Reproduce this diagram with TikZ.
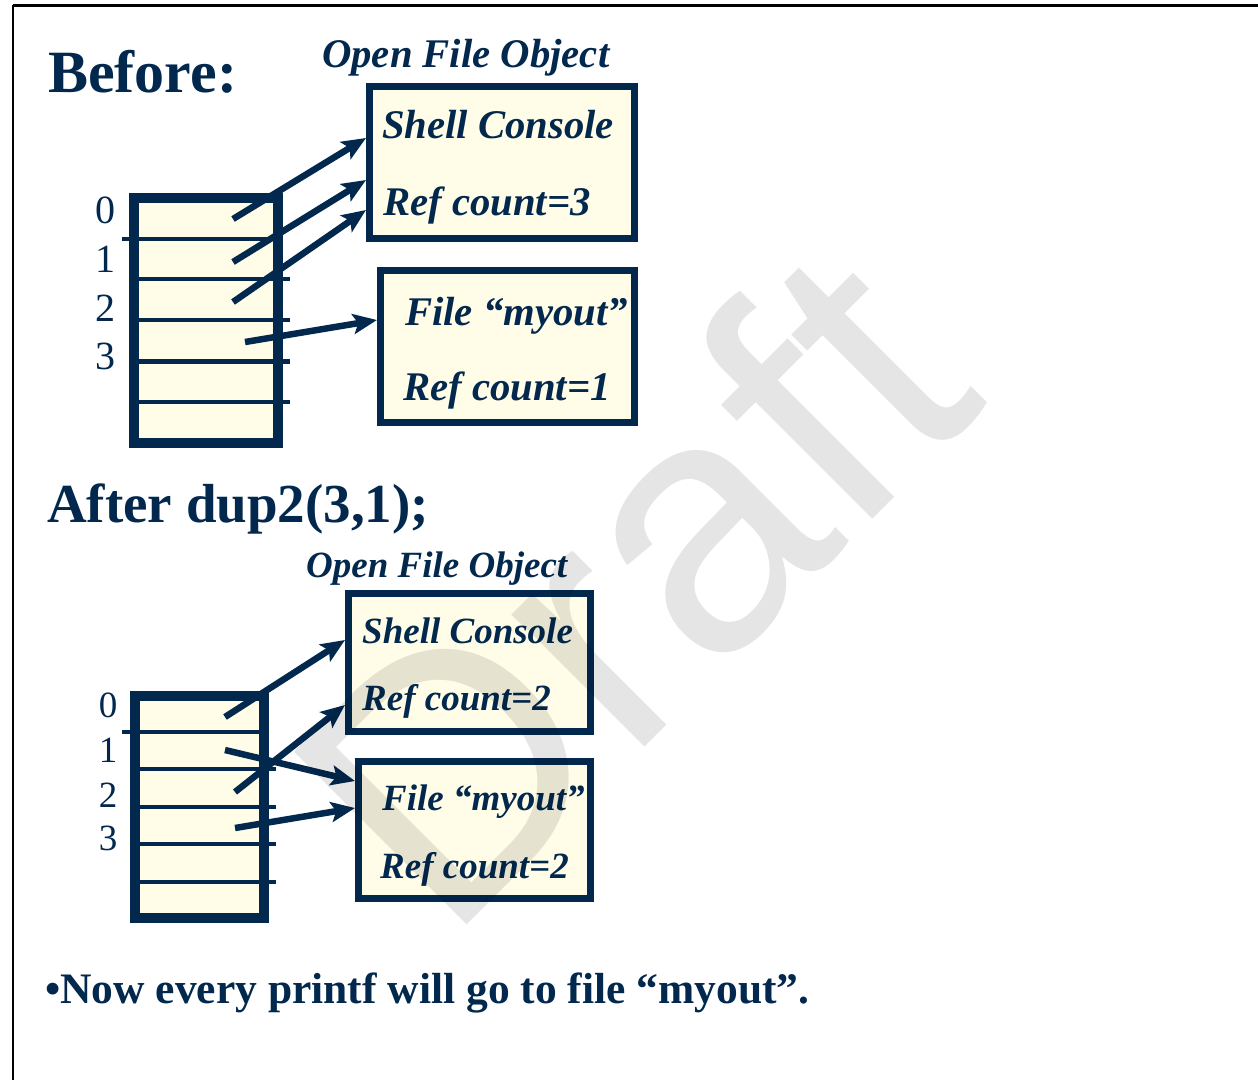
\documentclass[tikz,border=0pt]{standalone}
\usepackage{fontspec}
\setmainfont{Liberation Serif}
\setsansfont{Liberation Sans}
\usetikzlibrary{arrows.meta,calc}
\definecolor{navy}{RGB}{2,40,78}
\definecolor{cream}{RGB}{255,253,232}

\begin{document}
\begin{tikzpicture}[x=1pt,y=-1pt,
  objbox/.style={rectangle, draw=navy, fill=cream, line width=7pt, inner sep=0pt},
  fdtable/.style={rectangle, draw=navy, fill=cream, line width=10pt, inner sep=0pt},
  rowline/.style={draw=navy, line width=4.5pt},
  ptr/.style={draw=navy, line width=6.5pt, -{Stealth[length=24pt,width=20pt,inset=5pt]}},
  lbl/.style={text=navy, inner sep=0pt, anchor=base west},
  heading/.style={lbl, font=\fontsize{#1}{#1}\selectfont\bfseries},
  boxtext/.style={lbl, font=\fontsize{#1}{#1}\selectfont\bfseries\itshape},
  fdnum/.style={text=navy, inner sep=0pt, font=\fontsize{#1}{#1}\selectfont},
]
\useasboundingbox (0,0) rectangle (1258,1080);
\fill[white] (0,0) rectangle (1258,1080);

% slide frame (top and left edges)
\draw[line width=3pt] (13,5) -- (1258,5);
\draw[line width=2pt] (13,5) -- (13,1080);

% ---------------- before ----------------
\node[heading=60] (hBefore) at (48,92) {Before:};
\node[boxtext=40.7] (ofoA) at (322,67) {Open File Object};

\node[objbox, minimum width=265pt, minimum height=152pt] (shellA) at (502,162.5) {};
\node[boxtext=40.7] (shellAt1) at (382,138) {Shell Console};
\node[boxtext=40.7] (shellAt2) at (383,215) {Ref count=3};

\node[objbox, minimum width=254pt, minimum height=152pt] (fileA) at (507.5,346.5) {};
\node[boxtext=40.7] (fileAt1) at (405,325) {File “myout”};
\node[boxtext=40.7] (fileAt2) at (403,400) {Ref count=1};

\node[fdtable, minimum width=144pt, minimum height=245pt] (tabA) at (206,320.5) {};
\draw[rowline] (122,239) -- (tabA.east |- 0,239);
\foreach \y in {279,320,361.5,402}
  \draw[rowline] (tabA.west |- 0,\y) -- (290,\y);

\node[fdnum=40] (nA0) at (105,210) {0};
\node[fdnum=40] (nA1) at (105,259) {1};
\node[fdnum=40] (nA2) at (105,308) {2};
\node[fdnum=40] (nA3) at (105,356) {3};

\coordinate (fdA0) at (233,219);
\coordinate (fdA1) at (233,262);
\coordinate (fdA2) at (233,302);
\coordinate (fdA3) at (245,342);
\draw[ptr] (fdA0) -- (shellA.west |- 0,138);
\draw[ptr] (fdA1) -- (shellA.west |- 0,180);
\draw[ptr] (fdA2) -- (shellA.west |- 0,210);
\draw[ptr] (fdA3) -- (fileA.west |- 0,320);

% ---------------- after ----------------
\node[heading=55] (hAfter) at (47,522) {After dup2(3,1);};
\node[boxtext=37] (ofoB) at (306,577) {Open File Object};

\node[objbox, minimum width=242pt, minimum height=138pt] (shellB) at (469.5,662.5) {};
\node[boxtext=37] (shellBt1) at (362,643) {Shell Console};
\node[boxtext=37] (shellBt2) at (362,710) {Ref count=2};

\node[objbox, minimum width=232pt, minimum height=137pt] (fileB) at (474.5,830) {};
\node[boxtext=37] (fileBt1) at (382,810) {File “myout”};
\node[boxtext=37] (fileBt2) at (380,878) {Ref count=2};

\node[fdtable, minimum width=129pt, minimum height=222pt] (tabB) at (199.5,807) {};
\draw[rowline] (122,732) -- (tabB.east |- 0,732);
\foreach \y in {769,807,844,882}
  \draw[rowline] (tabB.west |- 0,\y) -- (276,\y);

\node[fdnum=37] (nB0) at (108,705) {0};
\node[fdnum=37] (nB1) at (108,750) {1};
\node[fdnum=37] (nB2) at (108,795) {2};
\node[fdnum=37] (nB3) at (108,838) {3};

\coordinate (fdB0) at (225,717);
\coordinate (fdB1) at (225,750);
\coordinate (fdB2) at (235,792);
\coordinate (fdB3) at (235,828);
\draw[ptr] (fdB0) -- (shellB.west |- 0,640);
\draw[ptr] (fdB2) -- (shellB.west |- 0,705);
\draw[ptr] (fdB1) -- (fileB.west |- 0,781);
\draw[ptr] (fdB3) -- (fileB.west |- 0,808);

\node[heading=43.5] (note) at (45,1003) {•Now every printf will go to file “myout”.};

% watermark
\node[rotate=45, anchor=base west, inner sep=0pt, text=black, opacity=0.1,
      font=\fontsize{355}{355}\selectfont\sffamily] (wm) at (446,946) {Draft};
\end{tikzpicture}
\end{document}
